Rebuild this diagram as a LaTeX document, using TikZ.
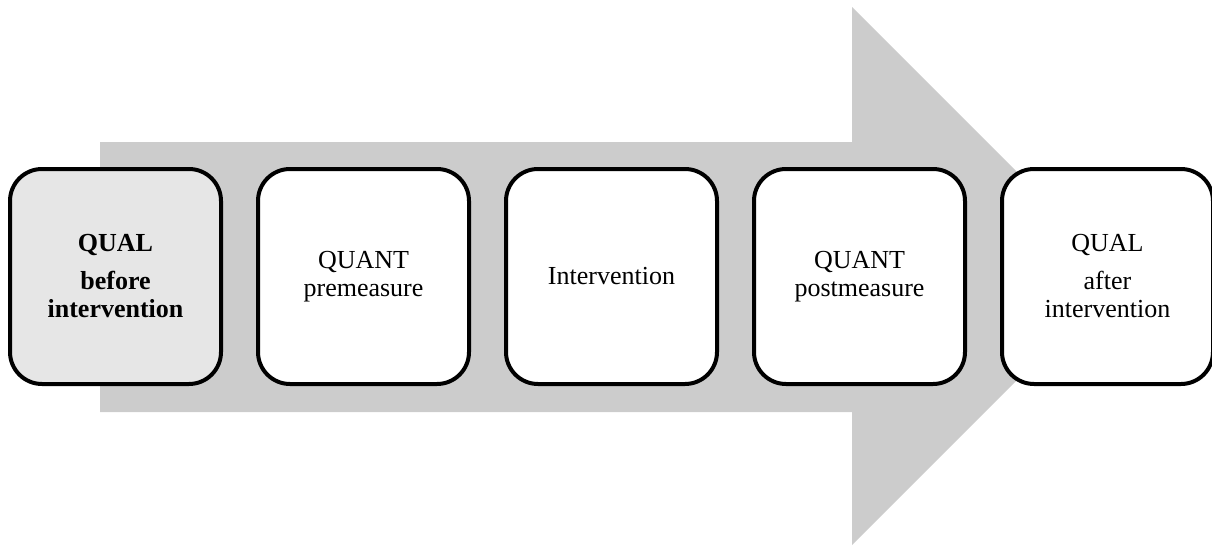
\documentclass[tikz,border=0pt]{standalone}
\usepackage{fontspec}
\setmainfont{Liberation Serif}
\usetikzlibrary{positioning}
\definecolor{flowgrey}{RGB}{204,204,204}
\definecolor{qualgrey}{RGB}{230,230,230}
\newcommand{\stagefont}{\fontsize{13}{14}\selectfont}

\tikzset{
  stage/.style={draw, line width=2pt, rounded corners=16pt, fill=white, align=center,
    minimum width=105.5pt, minimum height=107.5pt, inner sep=2pt, font=\stagefont},
  first stage/.style={stage, fill=qualgrey, font=\stagefont\bfseries},
}

\begin{document}
\begin{tikzpicture}[x=0.5pt, y=-0.5pt]

\useasboundingbox (0,0) rectangle (1212,546);
\fill[flowgrey] (100,142) -- (852,142) -- (852,7) -- (1121,276) -- (852,545) -- (852,412) -- (100,412) -- cycle;

\node[first stage] (qualpre) at (115.5,276.5) {QUAL\\[5pt] before\\ intervention};
\node[stage, right=16.5pt of qualpre] (quantpre) {QUANT\\ premeasure};
\node[stage, right=16.5pt of quantpre] (interv) {Intervention};
\node[stage, right=16.5pt of interv] (quantpost) {QUANT\\ postmeasure};
\node[stage, right=16.5pt of quantpost] (qualpost) {QUAL\\[5pt] after\\ intervention};

\end{tikzpicture}
\end{document}
